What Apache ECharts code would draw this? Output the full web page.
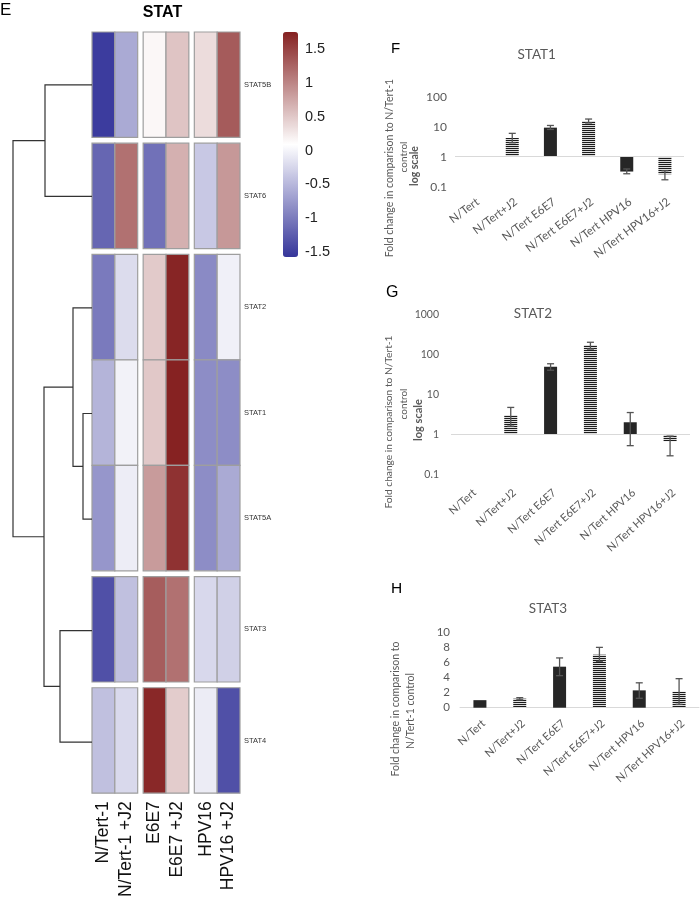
<!DOCTYPE html>
<html><head><meta charset="utf-8">
<script src="https://cdn.jsdelivr.net/npm/echarts@6/dist/echarts.min.js"></script>
<style>html,body{margin:0;padding:0;background:#fff}#c{width:700px;height:900px}</style>
</head><body><div id="c"></div>
<script>
// ---------- DATA ----------
const heatSamples = ['N/Tert-1', 'N/Tert-1 +J2', 'E6E7', 'E6E7 +J2', 'HPV16', 'HPV16 +J2'];
const heatGenes = ['STAT5B', 'STAT6', 'STAT2', 'STAT1', 'STAT5A', 'STAT3', 'STAT4'];
const heatSTAT5B = [-1.51, -0.61, 0.15, 0.53, 0.35, 1.32];
const heatSTAT6  = [-1.17, 1.15, -1.08, 0.68, -0.36, 0.86];
const heatSTAT2  = [-1.00, -0.20, 0.49, 1.72, -0.87, -0.03];
const heatSTAT1  = [-0.53, -0.02, 0.50, 1.74, -0.85, -0.85];
const heatSTAT5A = [-0.77, -0.06, 0.84, 1.62, -0.85, -0.61];
const heatSTAT3  = [-1.35, -0.43, 1.30, 1.15, -0.23, -0.30];
const heatSTAT4  = [-0.43, -0.22, 1.70, 0.47, -0.07, -1.35];
const heatRows = [heatSTAT5B, heatSTAT6, heatSTAT2, heatSTAT1, heatSTAT5A, heatSTAT3, heatSTAT4];
const geneCluster = [0, 1, 2, 2, 2, 3, 4];
const sampleGroup = [0, 0, 1, 1, 2, 2];
const colorbarTicks = [-1.5, -1, -0.5, 0, 0.5, 1, 1.5];
const colorMin = -1.57, colorMax = 1.75;
// dendrogram merges: [childA, childB, height]; leaves 0..6 (row order), new nodes 7..
const dendroMerges = [[3, 4, 0.9], [2, 7, 1.9], [5, 6, 3.2], [0, 1, 4.7], [8, 9, 4.8], [10, 11, 7.9]];

const barCategories = ['N/Tert', 'N/Tert+J2', 'N/Tert E6E7', 'N/Tert E6E7+J2', 'N/Tert HPV16', 'N/Tert HPV16+J2'];
const barStriped = [false, true, false, true, false, true];
const stat1Values = [1, 4.2, 9.3, 15.5, 0.32, 0.26];
const stat1Low    = [null, 2.9, 8.1, 13.3, 0.27, 0.17];
const stat1High   = [null, 6.0, 11, 18, 0.39, 0.34];
const stat2Values = [1, 3.0, 49, 170, 2.0, 0.67];
const stat2Low    = [null, 1.6, 40, 135, 0.52, 0.29];
const stat2High   = [null, 4.7, 58, 200, 3.5, 0.9];
const stat3Values = [1.0, 1.2, 5.44, 7.03, 2.3, 2.12];
const stat3Low    = [null, 1.05, 4.25, 6.15, 1.25, 0.45];
const stat3High   = [null, 1.33, 6.6, 8.0, 3.3, 3.85];

// ---------- LAYOUT HELPERS ----------
const gapC = 0.24, gapR = 0.0544;
const colPos = i => i + sampleGroup[i] * gapC;
const rowPos = j => j + geneCluster[j] * gapR;
const xMaxHeat = 6 + 2 * gapC;
const yMaxHeat = 7 + 4 * gapR;

const heatData = [];
heatRows.forEach((row, r) => row.forEach((v, c) => heatData.push([c, r, v])));

// dendrogram node positions
const nodeY = [], nodeH = [];
heatGenes.forEach((g, j) => { nodeY[j] = rowPos(j) + 0.5; nodeH[j] = 0; });
dendroMerges.forEach((m, k) => {
  const id = heatGenes.length + k;
  nodeY[id] = (nodeY[m[0]] + nodeY[m[1]]) / 2;
  nodeH[id] = m[2];
});

// stripe pattern
const pc = document.createElement('canvas'); pc.width = 4; pc.height = 2;
const pctx = pc.getContext('2d');
pctx.fillStyle = '#dcdcdc'; pctx.fillRect(0, 0, 4, 2);
pctx.fillStyle = '#1c1c1c'; pctx.fillRect(0, 0, 4, 1);
const stripe = { image: pc, repeat: 'repeat' };

function barData(vals) {
  return vals.map((v, i) => ({ value: v, itemStyle: { color: barStriped[i] ? stripe : '#262626' } }));
}
function errData(lo, hi) {
  const out = [];
  lo.forEach((l, i) => { if (l != null) out.push([i, l, hi[i]]); });
  return out;
}
function errRender(params, api) {
  const x = api.value(0);
  const pL = api.coord([x, api.value(1)]), pH = api.coord([x, api.value(2)]);
  const w = 3.5, st = { stroke: '#555', lineWidth: 1.3 };
  return { type: 'group', children: [
    { type: 'line', shape: { x1: pL[0], y1: pL[1], x2: pH[0], y2: pH[1] }, style: st },
    { type: 'line', shape: { x1: pL[0] - w, y1: pL[1], x2: pL[0] + w, y2: pL[1] }, style: st },
    { type: 'line', shape: { x1: pH[0] - w, y1: pH[1], x2: pH[0] + w, y2: pH[1] }, style: st }
  ]};
}

const lab = { color: '#595959', fontFamily: 'Lato' };
function catAxis(gi, rot, margin, fs) {
  return { type: 'category', gridIndex: gi, data: barCategories,
    axisLine: { show: gi === 5, lineStyle: { color: '#d9d9d9', width: 1 } },
    axisTick: { show: false },
    axisLabel: Object.assign({ rotate: rot, margin: margin, fontSize: fs, interval: 0, align: 'right', verticalAlign: 'top' }, lab) };
}
function valStyle(fs, margin) {
  return { axisLine: { show: false }, axisTick: { show: false }, splitLine: { show: false },
    axisLabel: Object.assign({ fontSize: fs, margin: margin, formatter: v => (v >= 1 ? String(Math.round(v)) : String(v)) }, lab) };
}
const baseLine = { silent: true, symbol: ['none', 'none'], label: { show: false },
  lineStyle: { color: '#d9d9d9', width: 1, type: 'solid' }, data: [{ yAxis: 1 }] };

function txt(x, y, text, font, fill, rot, align) {
  return { type: 'text', x: x, y: y, rotation: rot || 0, silent: true,
    style: { text: text, font: font, fill: fill, align: align || 'center', verticalAlign: 'middle' } };
}

const option = {
  animation: false,
  backgroundColor: '#fff',
  grid: [
    { left: 92, top: 32, width: 148, height: 763 },
    { left: 13, top: 32, width: 79, height: 763 },
    { left: 283, top: 32, width: 15, height: 225 },
    { left: 455, top: 96.7, width: 229, height: 90 },
    { left: 451, top: 314.3, width: 239, height: 160 },
    { left: 460, top: 632.3, width: 239, height: 75.4 }
  ],
  xAxis: [
    { type: 'value', gridIndex: 0, min: 0, max: xMaxHeat, axisLine: { show: false }, axisTick: { show: false }, splitLine: { show: false },
      axisLabel: { customValues: heatSamples.map((s, i) => colPos(i) + 0.5), rotate: 90, margin: 8, fontSize: 17.5,
        fontFamily: 'Liberation Sans', color: '#111',
        formatter: v => { const i = heatSamples.findIndex((s, k) => Math.abs(colPos(k) + 0.5 - v) < 0.01); return i >= 0 ? heatSamples[i] : ''; } } },
    { type: 'value', gridIndex: 1, min: 0, max: 7.9, inverse: true, show: false },
    { type: 'value', gridIndex: 2, min: 0, max: 1, show: false },
    catAxis(3, 37, 9, 11.5),
    catAxis(4, 42, 12.7, 11),
    catAxis(5, 42, 10, 11)
  ],
  yAxis: [
    { type: 'value', gridIndex: 0, min: 0, max: yMaxHeat, inverse: true, position: 'right',
      axisLine: { show: false }, axisTick: { show: false }, splitLine: { show: false },
      axisLabel: { customValues: heatGenes.map((g, j) => rowPos(j) + 0.5), margin: 4, fontSize: 7.5,
        fontFamily: 'Liberation Sans', color: '#333',
        formatter: v => { const j = heatGenes.findIndex((g, k) => Math.abs(rowPos(k) + 0.5 - v) < 0.01); return j >= 0 ? heatGenes[j] : ''; } } },
    { type: 'value', gridIndex: 1, min: 0, max: yMaxHeat, inverse: true, show: false },
    { type: 'value', gridIndex: 2, min: colorMin, max: colorMax, position: 'right',
      axisLine: { show: false }, axisTick: { show: false }, splitLine: { show: false },
      axisLabel: { customValues: colorbarTicks, margin: 7, fontSize: 14.5, fontFamily: 'Liberation Sans', color: '#222',
        formatter: v => String(v) } },
    Object.assign({ type: 'log', logBase: 10, gridIndex: 3, min: 0.1, max: 100 }, valStyle(12, 8)),
    Object.assign({ type: 'log', logBase: 10, gridIndex: 4, min: 0.1, max: 1000 }, valStyle(10.5, 12)),
    Object.assign({ type: 'value', gridIndex: 5, min: 0, max: 10, interval: 2 }, valStyle(11.5, 10))
  ],
  visualMap: {
    type: 'continuous', seriesIndex: 0, dimension: 2, min: colorMin, max: colorMax,
    left: 283, top: 32, itemWidth: 15, itemHeight: 225, padding: 0,
    calculable: false, hoverLink: false, showLabel: false, text: null,
    inRange: { color: ['#35359a', '#ffffff', '#852121'] }
  },
  series: [
    { type: 'custom', xAxisIndex: 0, yAxisIndex: 0, data: heatData, encode: { x: 0, y: 1 }, silent: true,
      renderItem: (params, api) => {
        const c = api.value(0), r = api.value(1);
        const x0 = colPos(c), y0 = rowPos(r);
        const p0 = api.coord([x0, y0]), p1 = api.coord([x0 + 1, y0 + 1]);
        return { type: 'rect', shape: { x: p0[0], y: p0[1], width: p1[0] - p0[0], height: p1[1] - p0[1] },
          style: { fill: api.visual('color'), stroke: '#9e9e9e', lineWidth: 1.2 } };
      } },
    { type: 'custom', xAxisIndex: 1, yAxisIndex: 1, data: dendroMerges.map(m => [m[2], 0]), encode: { x: 0 }, silent: true,
      renderItem: (params, api) => {
        const m = dendroMerges[params.dataIndex];
        const a = m[0], b = m[1], h = m[2];
        const pts = [[nodeH[a], nodeY[a]], [h, nodeY[a]], [h, nodeY[b]], [nodeH[b], nodeY[b]]].map(p => api.coord(p));
        return { type: 'polyline', shape: { points: pts }, style: { stroke: '#333', lineWidth: 1.2, fill: null } };
      } },
    { type: 'bar', xAxisIndex: 3, yAxisIndex: 3, barWidth: 13, data: barData(stat1Values), markLine: baseLine, silent: true },
    { type: 'custom', xAxisIndex: 3, yAxisIndex: 3, data: errData(stat1Low, stat1High), encode: { x: 0, y: [1, 2] }, renderItem: errRender, z: 5, silent: true },
    { type: 'bar', xAxisIndex: 4, yAxisIndex: 4, barWidth: 13, data: barData(stat2Values), markLine: baseLine, silent: true },
    { type: 'custom', xAxisIndex: 4, yAxisIndex: 4, data: errData(stat2Low, stat2High), encode: { x: 0, y: [1, 2] }, renderItem: errRender, z: 5, silent: true },
    { type: 'bar', xAxisIndex: 5, yAxisIndex: 5, barWidth: 13, data: barData(stat3Values), silent: true },
    { type: 'custom', xAxisIndex: 5, yAxisIndex: 5, data: errData(stat3Low, stat3High), encode: { x: 0, y: [1, 2] }, renderItem: errRender, z: 5, silent: true }
  ],
  graphic: [
    txt(0, 10, 'E', '17px "Liberation Sans"', '#000', 0, 'left'),
    txt(162.5, 13, 'STAT', 'bold 16px "Liberation Sans"', '#000'),
    txt(391, 48.5, 'F', '15px "Liberation Sans"', '#000', 0, 'left'),
    txt(386, 292.5, 'G', '16px "Liberation Sans"', '#000', 0, 'left'),
    txt(391, 589, 'H', '15.5px "Liberation Sans"', '#000', 0, 'left'),
    txt(536.7, 55, 'STAT1', '13.5px Lato', '#595959'),
    txt(533, 314, 'STAT2', '13.5px Lato', '#595959'),
    txt(548, 609, 'STAT3', '13.5px Lato', '#595959'),
    txt(389.5, 168, 'Fold change in comparison to N/Tert-1', '10.5px Lato', '#595959', Math.PI / 2),
    txt(403.5, 157, 'control', '10px Lato', '#595959', Math.PI / 2),
    txt(414.5, 166, 'log scale', 'bold 10.5px Lato', '#595959', Math.PI / 2),
    txt(389, 422, 'Fold change in comparison to N/Tert-1', '10.2px Lato', '#595959', Math.PI / 2),
    txt(403.5, 404, 'control', '10px Lato', '#595959', Math.PI / 2),
    txt(418, 420, 'log scale', 'bold 11px Lato', '#595959', Math.PI / 2),
    txt(396, 709, 'Fold change in comparison to', '10.5px Lato', '#595959', Math.PI / 2),
    txt(411, 711, 'N/Tert-1 control', '10.5px Lato', '#595959', Math.PI / 2)
  ]
};
const chart = echarts.init(document.getElementById('c'), null, { renderer: 'canvas' });
chart.setOption(option);
</script>
</body></html>
